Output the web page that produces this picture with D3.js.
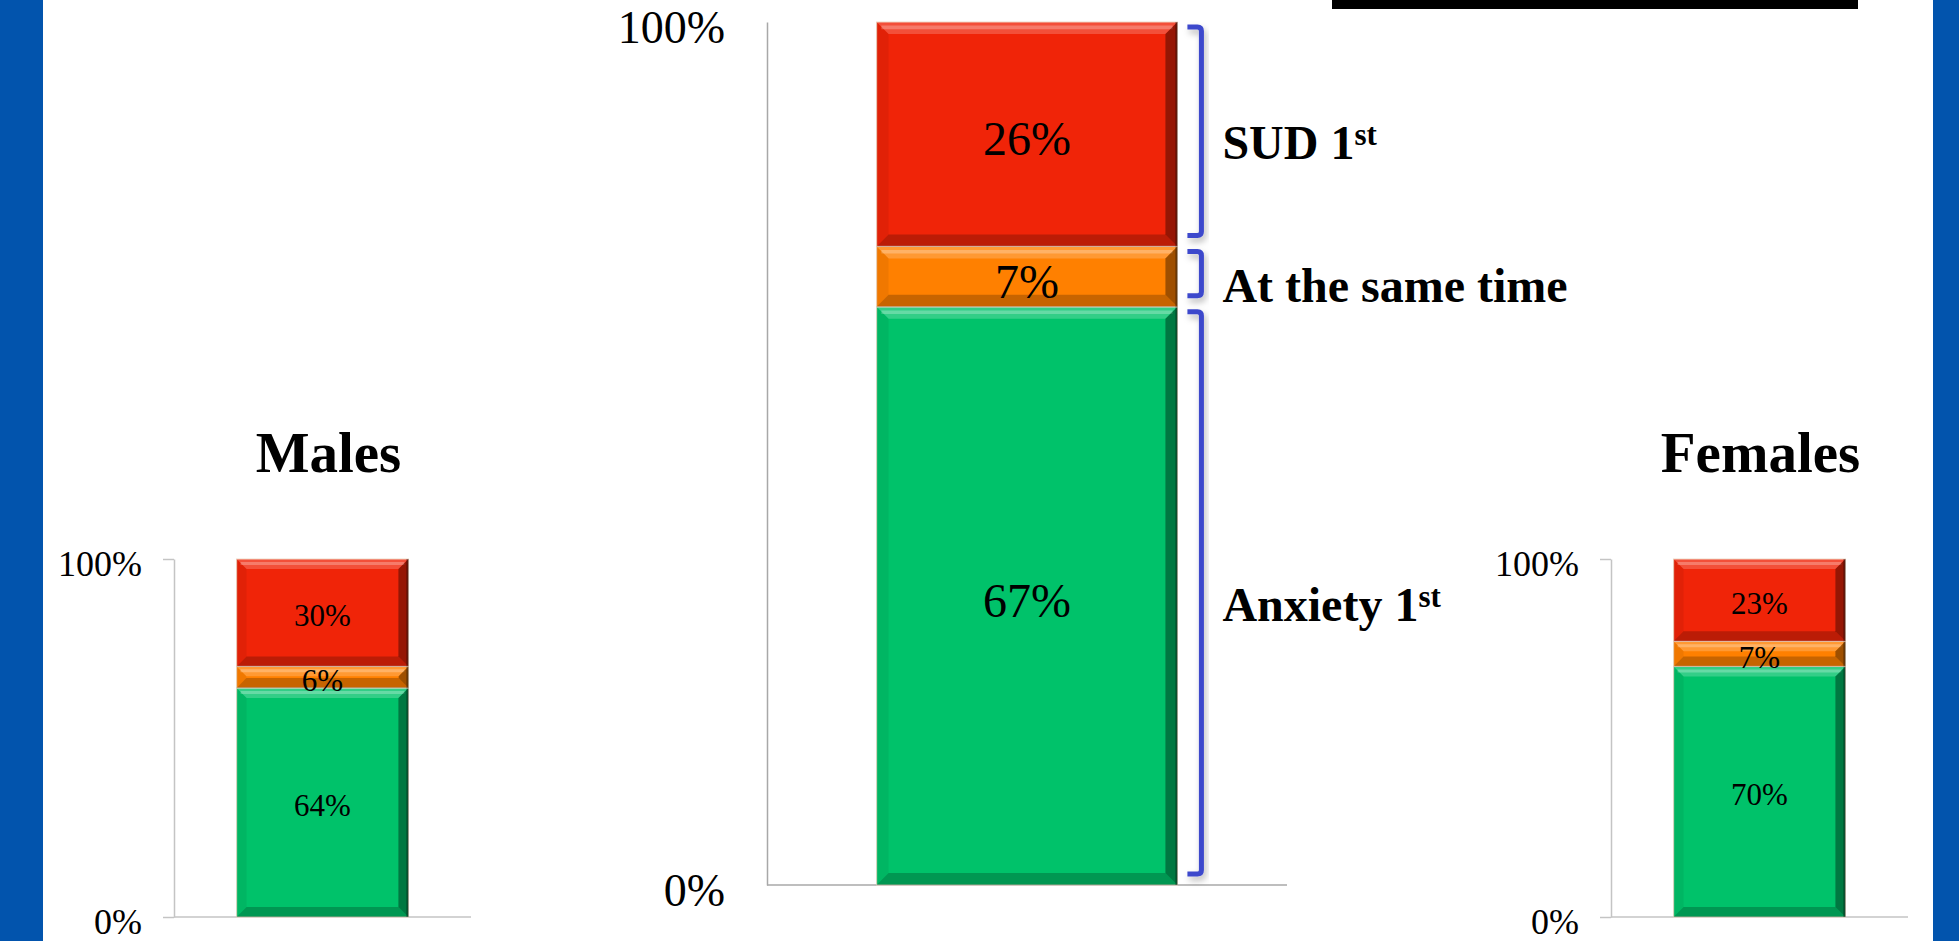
<!DOCTYPE html>
<html>
<head>
<meta charset="utf-8">
<script src="https://cdn.jsdelivr.net/npm/d3@7"></script>
<style>
  html, body { margin: 0; padding: 0; background: #ffffff; }
  svg { display: block; }
  text { font-family: "Liberation Serif", "Times New Roman", serif; }
</style>
</head>
<body>
<svg id="chart" width="1959" height="941"></svg>
<script>
// Onset order of anxiety disorder vs. substance use disorder (stacked shares, %)
const segmentNames = ["Anxiety 1st", "At the same time", "SUD 1st"];
const segmentColors = ["#00c26a", "#ff8000", "#f02408"];
const overallValues = [67, 7, 26];
const malesValues = [64, 6, 30];
const femalesValues = [70, 7, 23];
const yTickValues = [0, 100];
const panelTitles = ["Males", "Females"];

const svg = d3.select("#chart");
const W = 1959, H = 941;

// slide frame
svg.append("rect").attr("x", 0).attr("y", 0).attr("width", 43).attr("height", H).attr("fill", "#0254ad");
svg.append("rect").attr("x", 1933).attr("y", 0).attr("width", W - 1933).attr("height", H).attr("fill", "#0254ad");
svg.append("rect").attr("x", 1332).attr("y", 0).attr("width", 526).attr("height", 9).attr("fill", "#000");

const defs = svg.append("defs");
const shadow = defs.append("filter").attr("id", "bracketShadow")
  .attr("x", "-50%").attr("y", "-10%").attr("width", "200%").attr("height", "120%");
shadow.append("feDropShadow").attr("dx", 2).attr("dy", 4).attr("stdDeviation", 3)
  .attr("flood-color", "#000").attr("flood-opacity", 0.28);

function stackValues(values) {
  let acc = 0;
  return values.map((v, i) => {
    const d = { name: segmentNames[i], color: segmentColors[i], value: v, y0: acc, y1: acc + v };
    acc += v;
    return d;
  });
}

// beveled bar segment
function drawSegment(g, x0, w, yTop, yBot, color, bevel) {
  const h = yBot - yTop;
  const b = Math.min(bevel, h / 2.2, w / 4);
  g.append("rect").attr("x", x0).attr("y", yTop).attr("width", w).attr("height", h)
    .attr("fill", color).attr("stroke", "rgba(235,215,195,0.75)").attr("stroke-width", 1.2);
  const x1 = x0 + w;
  const poly = (pts, fill) => g.append("polygon")
    .attr("points", pts.map(p => p.join(",")).join(" ")).attr("fill", fill);
  // top highlight
  poly([[x0, yTop], [x1, yTop], [x1 - b, yTop + b], [x0 + b, yTop + b]], "rgba(255,255,255,0.20)");
  g.append("line").attr("x1", x0 + b * 0.4).attr("x2", x1 - b * 0.4)
    .attr("y1", yTop + b * 0.45).attr("y2", yTop + b * 0.45)
    .attr("stroke", "rgba(255,255,255,0.25)").attr("stroke-width", Math.max(1, b * 0.3));
  // bottom shade
  poly([[x0, yBot], [x1, yBot], [x1 - b, yBot - b], [x0 + b, yBot - b]], "rgba(0,0,0,0.22)");
  // left edge
  poly([[x0, yTop], [x0 + b, yTop + b], [x0 + b, yBot - b], [x0, yBot]], "rgba(0,0,0,0.06)");
  // right edge
  poly([[x1, yTop], [x1 - b, yTop + b], [x1 - b, yBot - b], [x1, yBot]], "rgba(0,0,0,0.38)");
  g.append("line").attr("x1", x1 - 1).attr("x2", x1 - 1).attr("y1", yTop).attr("y2", yBot)
    .attr("stroke", "rgba(0,0,0,0.35)").attr("stroke-width", 2);
}

function drawPanel(cfg) {
  const g = svg.append("g");
  const x = d3.scaleBand().domain([cfg.category]).range(cfg.xRange).paddingInner(0.267).paddingOuter(0.267);
  const y = d3.scaleLinear().domain([0, 100]).range(cfg.yRange);
  const axisX = cfg.xRange[0];

  const axis = d3.axisLeft(y).tickValues(yTickValues).tickFormat(d => d + "%")
    .tickSize(cfg.tickSize).tickSizeOuter(0).tickPadding(cfg.tickPadding);
  const ag = g.append("g").attr("transform", `translate(${axisX},0)`).call(axis);
  ag.select(".domain").attr("stroke", cfg.axisColor).attr("stroke-width", 1.5);
  ag.selectAll(".tick line").attr("stroke", cfg.axisColor).attr("stroke-width", 1.5);
  ag.selectAll(".tick text")
    .attr("fill", "#000").attr("dy", "0.45em")
    .style("font-family", '"Liberation Serif", "Times New Roman", serif')
    .style("font-size", cfg.tickFont + "px");

  // category baseline
  g.append("line").attr("x1", axisX).attr("x2", cfg.xRange[1])
    .attr("y1", y(0)).attr("y2", y(0))
    .attr("stroke", cfg.axisColor).attr("stroke-width", 1.5);

  const stacked = stackValues(cfg.values);
  const bx = x(cfg.category), bw = x.bandwidth();
  const bars = g.append("g");
  stacked.forEach(d => drawSegment(bars, bx, bw, y(d.y1), y(d.y0), d.color, cfg.bevel));

  g.append("g").selectAll("text").data(stacked).join("text")
    .attr("x", bx + bw / 2)
    .attr("y", d => y((d.y0 + d.y1) / 2))
    .attr("dy", "0.44em")
    .attr("text-anchor", "middle")
    .attr("font-size", cfg.labelFont)
    .attr("fill", "#000")
    .text(d => d.value + "%");

  if (cfg.title) {
    g.append("text").attr("x", bx + bw / 2 + cfg.titleDx).attr("y", cfg.titleY)
      .attr("text-anchor", "middle").attr("font-size", 57).attr("font-weight", "bold")
      .attr("fill", "#000").text(cfg.title);
  }

  if (cfg.brackets) {
    const bxL = bx + bw + 10, bxR = bx + bw + 24, r = 4;
    const bg = g.append("g").attr("filter", "url(#bracketShadow)");
    stacked.forEach(d => {
      const top = y(d.y1) + 5, bot = y(d.y0) - 11;
      bg.append("path")
        .attr("d", `M${bxL},${top} H${bxR - r} Q${bxR},${top} ${bxR},${top + r} V${bot - r} Q${bxR},${bot} ${bxR - r},${bot} H${bxL}`)
        .attr("fill", "none").attr("stroke", "#3c48cc").attr("stroke-width", 5);
    });
    const lg = g.append("g");
    stacked.forEach(d => {
      const t = lg.append("text")
        .attr("x", bx + bw + 45)
        .attr("y", y((d.y0 + d.y1) / 2) + 25)
        .attr("font-size", 48).attr("font-weight", "bold").attr("fill", "#000");
      const m = d.name.match(/^(.*\d)(st)$/);
      if (m) {
        t.append("tspan").text(m[1]);
        t.append("tspan").attr("dy", -14).attr("font-size", 31).text(m[2]);
      } else {
        t.text(d.name);
      }
    });
  }
}

// overall
drawPanel({
  category: "All", values: overallValues,
  xRange: [767, 1287], yRange: [885, 22],
  tickSize: 0, tickPadding: 42, tickFont: 46, labelFont: 48,
  axisColor: "#a8a8a8", bevel: 12, brackets: true
});
// males
drawPanel({
  category: panelTitles[0], values: malesValues, title: panelTitles[0], titleY: 472, titleDx: 6,
  xRange: [174, 471], yRange: [917, 559],
  tickSize: 11, tickPadding: 21, tickFont: 36, labelFont: 31,
  axisColor: "#c4c4c4", bevel: 10
});
// females
drawPanel({
  category: panelTitles[1], values: femalesValues, title: panelTitles[1], titleY: 472, titleDx: 1,
  xRange: [1611, 1908], yRange: [917, 559],
  tickSize: 11, tickPadding: 21, tickFont: 36, labelFont: 31,
  axisColor: "#c4c4c4", bevel: 10
});
</script>
</body>
</html>
